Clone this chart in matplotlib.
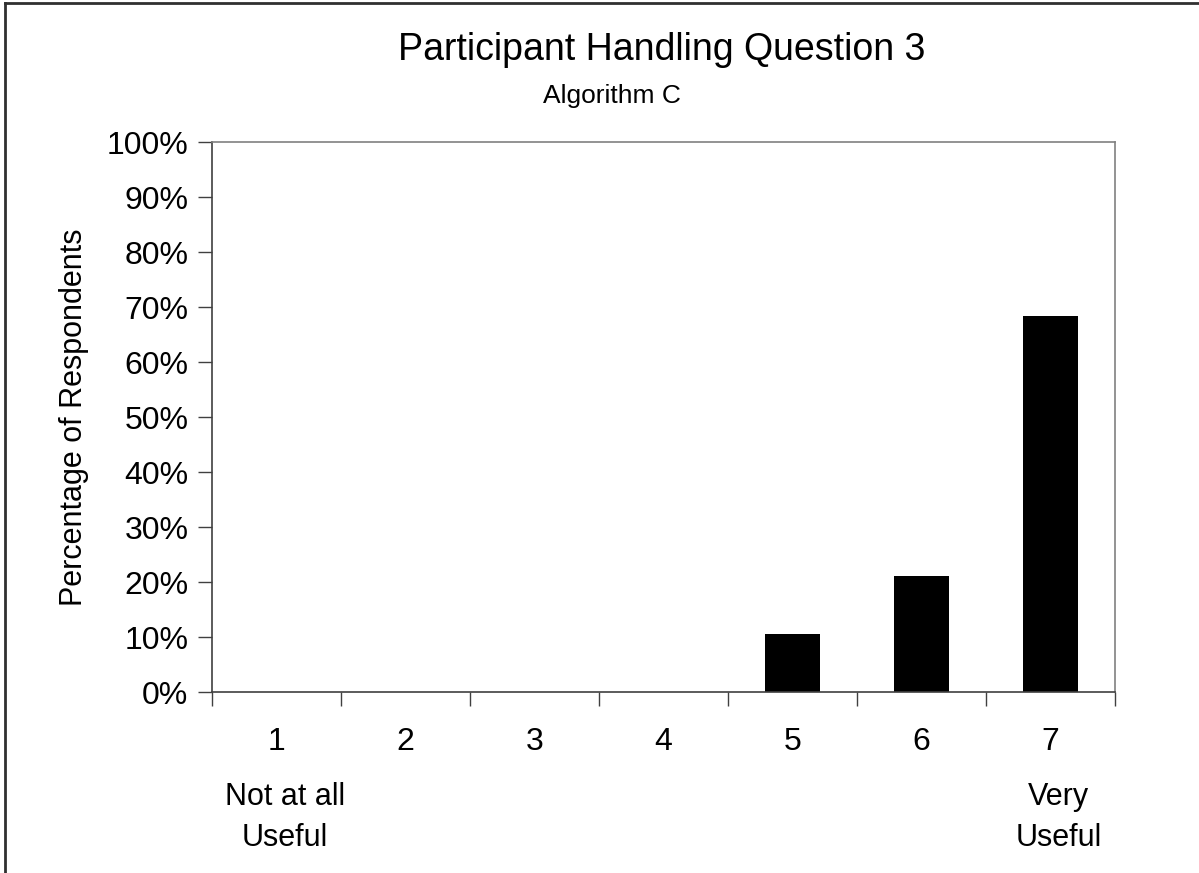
import matplotlib.pyplot as plt
from matplotlib.lines import Line2D
from matplotlib.ticker import PercentFormatter

plt.rcParams['font.family'] = ['Liberation Sans', 'DejaVu Sans']

# data
categories = ["1", "2", "3", "4", "5", "6", "7"]
percentages = [0.0, 0.0, 0.0, 0.0, 10.53, 21.05, 68.42]
anchor_labels = ["Not at all\nUseful", "", "", "", "", "", "Very\nUseful"]

fig = plt.figure(figsize=(11.99, 8.73), dpi=100)
ax = fig.add_axes([0.1768, 0.2073, 0.7532, 0.6300])

x = list(range(1, len(categories) + 1))
ax.bar(x, percentages, width=0.43, color='black')

ax.set_xlim(0.5, len(categories) + 0.5)
ax.set_ylim(0, 100)
ax.set_yticks(range(0, 101, 10))
ax.yaxis.set_major_formatter(PercentFormatter(decimals=0))

# category labels without marks, boundaries marked with minor ticks
ax.set_xticks(x)
ax.set_xticklabels(categories)
ax.set_xticks([i + 0.5 for i in range(len(categories) + 1)], minor=True)
ax.tick_params(axis='x', which='major', length=0, pad=25, labelsize=23)
ax.tick_params(axis='x', which='minor', length=10, width=1, color='#404040', direction='out')
ax.tick_params(axis='y', length=10, width=1, color='#404040', direction='out', labelsize=23, pad=7)

for side in ['top', 'right']:
    ax.spines[side].set_color('#808080')
for side in ['left', 'bottom']:
    ax.spines[side].set_color('#404040')
for sp in ax.spines.values():
    sp.set_linewidth(1.2)

for xi, lab in zip(x, anchor_labels):
    if lab:
        ax.annotate(lab, xy=(xi, 0), xycoords=('data', 'axes fraction'),
                    xytext=(6, -65), textcoords='offset points',
                    ha='center', va='top', fontsize=22, linespacing=1.45)

ax.set_ylabel("Percentage of Respondents", fontsize=22, labelpad=13)

fig.text(0.5515, 0.9425, "Participant Handling Question 3", ha='center', va='center', fontsize=27)
fig.text(0.5100, 0.8900, "Algorithm C", ha='center', va='center', fontsize=19)

# outer frame (top and left edges visible)
fig.add_artist(Line2D([5 / 1199, 1.0], [1 - 3 / 873, 1 - 3 / 873], color='#303030', lw=2, transform=fig.transFigure))
fig.add_artist(Line2D([5 / 1199, 5 / 1199], [0.0, 1 - 3 / 873], color='#303030', lw=2, transform=fig.transFigure))

fig.savefig("out.png", dpi=100)
